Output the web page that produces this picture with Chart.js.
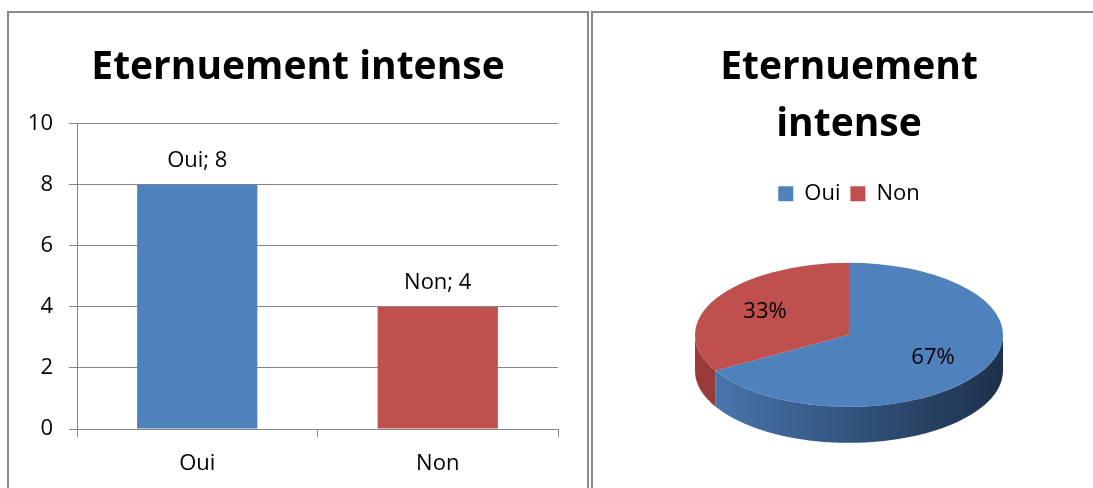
<!DOCTYPE html>
<html>
<head>
<meta charset="utf-8">
<script src="https://cdn.jsdelivr.net/npm/chart.js@4.4.1/dist/chart.umd.min.js"></script>
<style>
  body { margin: 0; width: 1093px; height: 488px; overflow: hidden; background: #fff; position: relative; }
  .panel { position: absolute; top: 11px; height: 500px; border: 2px solid #8a8a8a; }
  #left-panel { left: 7px; width: 578px; }
  #right-panel { left: 591px; width: 600px; }
  canvas { position: absolute; }
  #barChart { left: 9px; top: 13px; }
  #pieChart { left: 598px; top: 13px; }
</style>
</head>
<body>
<div class="panel" id="left-panel"></div>
<div class="panel" id="right-panel"></div>
<canvas id="barChart" width="578" height="475"></canvas>
<canvas id="pieChart" width="502" height="475"></canvas>

<script>
const categories = ['Oui', 'Non'];
const counts = [8, 4];
const yTicks = [0, 2, 4, 6, 8, 10];
const colors = ['#4F81BD', '#C0504D'];
const title = 'Eternuement intense';

const FONT = '"Open Sans", sans-serif';
Chart.defaults.font.family = FONT;
Chart.defaults.color = '#000';

const gridColor = '#868686';

// "Oui; 8" style labels above each bar
const barLabels = {
  id: 'barLabels',
  afterDatasetsDraw(chart) {
    const ctx = chart.ctx;
    ctx.save();
    ctx.font = '22px ' + FONT;
    ctx.fillStyle = '#000';
    ctx.textAlign = 'center';
    ctx.textBaseline = 'middle';
    chart.getDatasetMeta(0).data.forEach((bar, i) => {
      ctx.fillText(categories[i] + '; ' + counts[i], bar.x, bar.y - 24);
    });
    ctx.restore();
  }
};

new Chart(document.getElementById('barChart'), {
  type: 'bar',
  data: {
    labels: categories,
    datasets: [{
      data: counts,
      backgroundColor: colors,
      barPercentage: 0.5,
      categoryPercentage: 1
    }]
  },
  options: {
    responsive: false,
    animation: false,
    devicePixelRatio: 1,
    layout: { padding: { bottom: 11 } },
    plugins: {
      legend: { display: false },
      tooltip: { enabled: false },
      title: {
        display: true,
        text: title,
        font: { size: 39, weight: 'bold' },
        color: '#000',
        padding: { top: 31, bottom: 33 }
      }
    },
    scales: {
      x: {
        afterFit: s => { s.height = 48; },
        grid: { drawOnChartArea: false, tickLength: 8, color: gridColor },
        border: { color: gridColor },
        ticks: { font: { size: 22 }, padding: 14 }
      },
      y: {
        min: 0,
        max: 10,
        afterBuildTicks: s => { s.ticks = yTicks.map(v => ({ value: v })); },
        afterFit: s => { s.width = 68; },
        grid: { tickLength: 8, color: gridColor },
        border: { color: gridColor },
        ticks: { font: { size: 22 }, padding: 16 }
      },
      // empty right-hand margin so the plot sits off-centre under the title
      gutter: {
        position: 'right',
        afterFit: s => { s.width = 29; },
        grid: { display: false },
        border: { display: false },
        ticks: { display: false }
      }
    }
  },
  plugins: [barLabels]
});

// flatten the pie into an ellipse and give it a side wall
const TILT = 72 / 154;
const DEPTH = 36;
const sideFills = [
  ['#4d7ab3', '#33547e', '#1d304a'],
  ['#9a3b39', '#8a3331', '#7a2c2a']
];

const pie3d = {
  id: 'pie3d',
  beforeDatasetsDraw(chart) {
    const ctx = chart.ctx;
    const arcs = chart.getDatasetMeta(0).data;
    const cx = arcs[0].x, cy = arcs[0].y, rx = arcs[0].outerRadius;
    const ry = rx * TILT;
    arcs.forEach((arc, i) => {
      const a = Math.max(arc.startAngle, 0);
      const b = Math.min(arc.endAngle, Math.PI);
      if (a >= b) return;
      const g = ctx.createLinearGradient(cx - rx, 0, cx + rx, 0);
      g.addColorStop(0, sideFills[i][0]);
      g.addColorStop(0.5, sideFills[i][1]);
      g.addColorStop(1, sideFills[i][2]);
      ctx.save();
      ctx.beginPath();
      ctx.ellipse(cx, cy, rx, ry, 0, a, b);
      ctx.lineTo(cx + rx * Math.cos(b), cy + ry * Math.sin(b) + DEPTH);
      ctx.ellipse(cx, cy + DEPTH, rx, ry, 0, b, a, true);
      ctx.closePath();
      ctx.fillStyle = g;
      ctx.fill();
      ctx.restore();
    });
    ctx.save();
    ctx.translate(0, cy);
    ctx.scale(1, TILT);
    ctx.translate(0, -cy);
  },
  afterDatasetsDraw(chart) {
    const ctx = chart.ctx;
    ctx.restore();
    const arcs = chart.getDatasetMeta(0).data;
    const total = counts.reduce((s, v) => s + v, 0);
    ctx.save();
    ctx.font = '22px ' + FONT;
    ctx.fillStyle = '#000';
    ctx.textAlign = 'center';
    ctx.textBaseline = 'middle';
    arcs.forEach((arc, i) => {
      const mid = (arc.startAngle + arc.endAngle) / 2;
      const r = arc.outerRadius * 0.63;
      const pct = Math.round(counts[i] / total * 100) + '%';
      ctx.fillText(pct, arc.x + Math.cos(mid) * r, arc.y + Math.sin(mid) * r * TILT);
    });
    ctx.restore();
  }
};

new Chart(document.getElementById('pieChart'), {
  type: 'pie',
  data: {
    labels: categories,
    datasets: [{
      data: counts,
      backgroundColor: colors,
      borderWidth: 0,
      clip: false
    }]
  },
  options: {
    responsive: false,
    animation: false,
    devicePixelRatio: 1,
    radius: 154,
    layout: { padding: { bottom: 33 } },
    plugins: {
      tooltip: { enabled: false },
      title: {
        display: true,
        text: ['Eternuement', 'intense'],
        font: { size: 39, weight: 'bold', lineHeight: 1.46 },
        color: '#000',
        padding: { top: 26.5, bottom: 19.3 }
      },
      legend: {
        position: 'top',
        labels: { boxWidth: 15, boxHeight: 15, font: { size: 22 }, padding: 10 }
      }
    }
  },
  plugins: [pie3d]
});
</script>
</body>
</html>
